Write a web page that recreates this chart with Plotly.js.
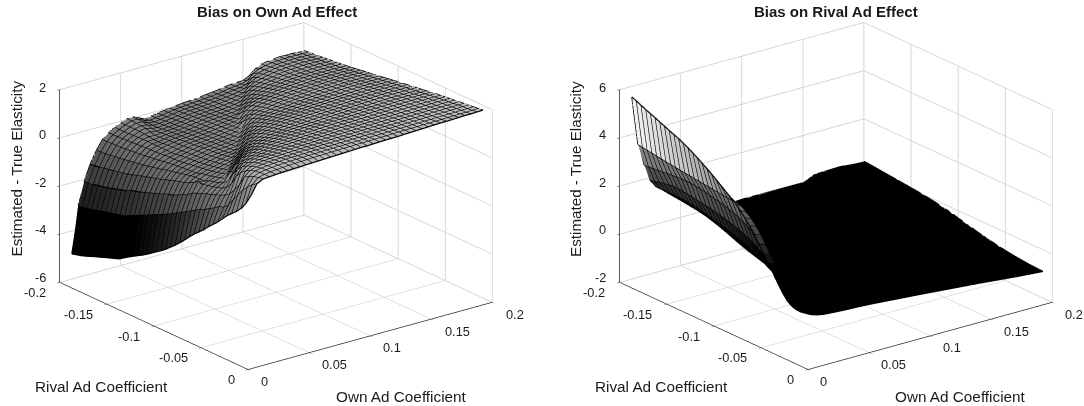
<!DOCTYPE html>
<html><head><meta charset="utf-8"><script src="https://cdn.plot.ly/plotly-3.0.1.min.js"></script>
<style>html,body{margin:0;padding:0;background:#fff}#c{width:1084px;height:406px}</style></head><body><div id="c"></div>
<script>
const ownA=[.01,.015,.02,.025,.03,.035,.04,.045,.05,.055,.06,.065,.07,.075,.08,.085,.09,.095,.1,.105,.11,.115,.12,.125,.13,.135,.14,.145,.15,.155,.16,.165,.17,.175,.18,.185,.19,.195,.2];
const ownB=[.01,.015,.02,.025,.03,.04,.05,.06,.08,.1,.15,.16,.18,.2];
const rivalAll=[-.2,-.195,-.19,-.185,-.18,-.175,-.17,-.165,-.16,-.155,-.15,-.145,-.14,-.135,-.13,-.125,-.12,-.115,-.11,-.105,-.1,-.095,-.09,-.085,-.08,-.075,-.07,-.065,-.06,-.055,-.05,-.045,-.04,-.035,-.03,-.025,-.02,-.015,-.01];
const ownTicks=[0,.05,.1,.15,.2], ownLabels=['0','0.05','0.1','0.15','0.2'];
const rivalTicks=[-.2,-.15,-.1,-.05,0], rivalLabels=['-0.2','-0.15','-0.1','-0.05','0'];
const zTicksA=[-6,-4,-2,0,2], zTicksB=[-2,0,2,4,6];
const zA=[
[-4.96,-3.03,-2.10,-1.45,-.95,-.57,-.35,-.20,-.08,.02,.03,-.08,-.20,-.15,-.10,-.06,-.02,0,.03,.05,.07,.09,.12,.15,.18,.23,.26,.27,.28,.40,.62,.75,.80,.82,.85,.84,.84,.83,.83],
[-4.90,-2.98,-2.06,-1.42,-.93,-.56,-.35,-.20,-.08,.02,.02,-.10,-.17,-.13,-.09,-.05,-.01,.02,.04,.06,.08,.10,.13,.16,.19,.24,.27,.29,.38,.60,.73,.78,.83,.84,.86,.86,.86,.85,.85],
[-4.85,-2.94,-2.03,-1.39,-.91,-.55,-.34,-.20,-.08,.01,0,-.12,-.14,-.11,-.07,-.03,.01,.04,.06,.08,.10,.13,.15,.19,.23,.27,.30,.36,.57,.70,.76,.81,.85,.86,.88,.88,.88,.87,.87],
[-4.78,-2.89,-1.99,-1.35,-.88,-.54,-.33,-.19,-.08,0,-.04,-.13,-.12,-.09,-.05,-.01,.03,.06,.08,.10,.12,.15,.18,.21,.25,.29,.36,.55,.68,.74,.79,.84,.87,.88,.90,.90,.90,.89,.89],
[-4.70,-2.84,-1.95,-1.31,-.85,-.53,-.32,-.18,-.08,-.02,-.09,-.13,-.10,-.07,-.03,.01,.05,.08,.10,.12,.14,.17,.20,.24,.28,.33,.53,.66,.72,.78,.83,.87,.89,.90,.92,.92,.92,.91,.91],
[-4.62,-2.78,-1.90,-1.27,-.82,-.51,-.31,-.17,-.10,-.08,-.12,-.10,-.08,-.05,-.01,.03,.07,.10,.12,.14,.16,.19,.22,.26,.31,.50,.64,.71,.77,.81,.86,.89,.91,.92,.94,.94,.94,.93,.93],
[-4.55,-2.73,-1.84,-1.23,-.79,-.49,-.29,-.16,-.12,-.13,-.10,-.08,-.06,-.03,.01,.05,.09,.12,.14,.16,.18,.21,.24,.29,.48,.62,.70,.76,.80,.85,.89,.91,.93,.94,.96,.96,.96,.95,.95],
[-4.47,-2.68,-1.78,-1.19,-.76,-.47,-.28,-.15,-.15,-.12,-.08,-.06,-.04,-.01,.03,.07,.11,.14,.16,.18,.20,.23,.27,.46,.60,.69,.75,.80,.84,.88,.91,.93,.95,.96,.98,.98,.98,.97,.97],
[-4.40,-2.63,-1.72,-1.14,-.72,-.45,-.26,-.16,-.15,-.10,-.06,-.04,-.02,.01,.05,.09,.13,.16,.18,.20,.22,.25,.44,.60,.70,.76,.81,.85,.89,.92,.94,.96,.98,.99,1.00,1.00,1.00,.99,.99],
[-4.33,-2.58,-1.66,-1.09,-.69,-.43,-.25,-.16,-.13,-.08,-.04,-.02,.01,.04,.07,.11,.15,.18,.20,.22,.24,.42,.60,.71,.77,.82,.86,.90,.93,.96,.98,1.00,1.01,1.02,1.02,1.02,1.02,1.01,1.01],
[-4.26,-2.54,-1.56,-1.00,-.65,-.40,-.25,-.15,-.11,-.06,-.02,0,.03,.06,.09,.13,.17,.20,.23,.25,.40,.60,.72,.78,.83,.87,.91,.94,.97,.99,1.01,1.03,1.04,1.05,1.05,1.05,1.05,1.04,1.04],
[-4.13,-2.44,-1.50,-.95,-.61,-.37,-.23,-.16,-.10,-.05,0,.02,.05,.08,.11,.15,.19,.22,.25,.30,.58,.72,.79,.84,.88,.92,.95,.98,1.00,1.02,1.04,1.06,1.07,1.08,1.08,1.08,1.08,1.07,1.07],
[-4.00,-2.35,-1.45,-.89,-.56,-.34,-.21,-.17,-.09,-.03,.02,.04,.07,.10,.13,.17,.21,.24,.27,.50,.68,.78,.84,.89,.93,.96,.99,1.01,1.03,1.05,1.07,1.09,1.10,1.11,1.11,1.11,1.11,1.10,1.10],
[-3.88,-2.25,-1.38,-.83,-.52,-.31,-.20,-.14,-.07,-.01,.04,.06,.09,.12,.15,.19,.23,.26,.45,.66,.78,.84,.89,.93,.96,.99,1.02,1.04,1.06,1.08,1.10,1.12,1.13,1.14,1.14,1.14,1.14,1.13,1.13],
[-3.76,-2.16,-1.31,-.78,-.47,-.28,-.19,-.11,-.05,.01,.06,.08,.11,.14,.17,.21,.25,.30,.64,.78,.84,.89,.93,.97,1.00,1.02,1.05,1.07,1.09,1.11,1.13,1.15,1.16,1.17,1.17,1.17,1.17,1.16,1.16],
[-3.65,-2.06,-1.24,-.72,-.42,-.25,-.18,-.09,-.03,.03,.08,.10,.13,.16,.19,.23,.28,.55,.75,.84,.89,.93,.97,1.00,1.03,1.06,1.08,1.10,1.12,1.14,1.16,1.17,1.18,1.19,1.19,1.19,1.19,1.19,1.19],
[-3.52,-1.96,-1.16,-.65,-.37,-.22,-.15,-.07,-.01,.05,.10,.12,.15,.18,.21,.26,.50,.72,.84,.90,.94,.98,1.01,1.04,1.07,1.09,1.11,1.13,1.15,1.17,1.18,1.20,1.21,1.22,1.22,1.22,1.22,1.22,1.22],
[-3.38,-1.87,-1.08,-.59,-.33,-.20,-.12,-.05,.01,.07,.12,.14,.17,.20,.24,.46,.70,.84,.91,.96,1.00,1.03,1.06,1.08,1.11,1.13,1.15,1.17,1.18,1.20,1.21,1.23,1.24,1.25,1.25,1.25,1.25,1.25,1.25],
[-3.24,-1.77,-.99,-.52,-.28,-.19,-.09,-.03,.03,.09,.14,.16,.19,.22,.43,.68,.84,.92,.98,1.02,1.05,1.08,1.10,1.13,1.15,1.17,1.19,1.20,1.22,1.23,1.24,1.26,1.27,1.28,1.28,1.28,1.28,1.28,1.28],
[-3.10,-1.66,-.95,-.46,-.24,-.17,-.06,0,.06,.12,.17,.19,.22,.40,.66,.84,.93,1.00,1.04,1.08,1.11,1.13,1.15,1.17,1.19,1.21,1.22,1.24,1.25,1.26,1.27,1.29,1.30,1.31,1.31,1.31,1.31,1.31,1.31],
[-2.95,-1.55,-.85,-.40,-.19,-.15,-.03,.03,.09,.15,.20,.24,.38,.64,.84,.94,1.01,1.06,1.10,1.13,1.16,1.18,1.20,1.22,1.24,1.25,1.27,1.28,1.29,1.30,1.31,1.32,1.33,1.34,1.34,1.34,1.34,1.34,1.34],
[-2.77,-1.43,-.75,-.33,-.16,-.08,0,.07,.13,.19,.24,.38,.62,.84,.96,1.03,1.08,1.12,1.16,1.18,1.20,1.22,1.24,1.26,1.27,1.29,1.30,1.31,1.32,1.33,1.34,1.35,1.36,1.37,1.37,1.37,1.37,1.37,1.37],
[-2.60,-1.32,-.65,-.22,-.15,-.04,.04,.11,.17,.23,.40,.62,.84,.97,1.05,1.10,1.14,1.17,1.20,1.22,1.24,1.26,1.28,1.29,1.31,1.32,1.33,1.34,1.35,1.36,1.37,1.38,1.39,1.40,1.40,1.40,1.40,1.40,1.40],
[-2.40,-1.20,-.50,-.09,-.14,0,.08,.15,.22,.42,.64,.85,.98,1.06,1.12,1.16,1.19,1.22,1.24,1.26,1.28,1.30,1.31,1.33,1.34,1.35,1.36,1.37,1.38,1.39,1.40,1.41,1.42,1.43,1.43,1.43,1.43,1.43,1.43],
[-2.20,-1.08,-.42,-.12,-.04,.05,.13,.21,.44,.66,.87,1.00,1.08,1.14,1.18,1.21,1.23,1.26,1.28,1.30,1.31,1.33,1.34,1.36,1.37,1.38,1.39,1.40,1.41,1.42,1.43,1.44,1.45,1.46,1.46,1.46,1.46,1.46,1.46],
[-1.98,-.95,-.33,-.08,.01,.10,.20,.45,.70,.90,1.03,1.11,1.17,1.21,1.24,1.27,1.29,1.31,1.32,1.34,1.35,1.36,1.38,1.39,1.40,1.41,1.42,1.43,1.44,1.44,1.45,1.46,1.47,1.48,1.48,1.48,1.48,1.48,1.48],
[-1.78,-.85,-.26,-.04,.06,.18,.46,.72,.93,1.06,1.14,1.20,1.24,1.27,1.30,1.32,1.34,1.35,1.37,1.38,1.39,1.40,1.41,1.42,1.43,1.44,1.45,1.46,1.47,1.47,1.48,1.49,1.50,1.51,1.51,1.51,1.51,1.51,1.51],
[-1.60,-.74,-.20,.03,.16,.48,.75,.97,1.10,1.18,1.23,1.27,1.30,1.33,1.35,1.37,1.38,1.39,1.41,1.42,1.43,1.44,1.45,1.46,1.46,1.47,1.48,1.49,1.50,1.50,1.51,1.52,1.53,1.54,1.54,1.54,1.54,1.54,1.54],
[-1.42,-.62,-.12,.08,.30,.70,.98,1.13,1.21,1.27,1.30,1.33,1.36,1.38,1.39,1.41,1.42,1.43,1.44,1.45,1.46,1.47,1.48,1.49,1.49,1.50,1.51,1.52,1.52,1.53,1.54,1.55,1.55,1.56,1.56,1.57,1.57,1.57,1.57],
[-1.20,-.50,-.05,.22,.68,1.00,1.15,1.24,1.29,1.33,1.36,1.38,1.40,1.42,1.43,1.44,1.45,1.46,1.47,1.48,1.49,1.50,1.51,1.51,1.52,1.53,1.53,1.54,1.55,1.55,1.56,1.57,1.58,1.58,1.59,1.59,1.59,1.59,1.59],
[-1.02,-.35,.05,.45,.98,1.18,1.27,1.33,1.36,1.39,1.41,1.43,1.45,1.46,1.47,1.48,1.49,1.50,1.50,1.51,1.52,1.53,1.53,1.54,1.55,1.55,1.56,1.57,1.57,1.58,1.58,1.59,1.60,1.60,1.61,1.61,1.61,1.62,1.62],
[-.82,-.30,.20,.85,1.17,1.29,1.36,1.40,1.42,1.44,1.46,1.47,1.48,1.49,1.50,1.51,1.52,1.53,1.53,1.54,1.55,1.55,1.56,1.57,1.57,1.58,1.58,1.59,1.59,1.60,1.61,1.61,1.62,1.62,1.63,1.63,1.64,1.64,1.64],
[-.60,-.10,.45,1.10,1.30,1.38,1.42,1.45,1.47,1.48,1.50,1.51,1.52,1.53,1.53,1.54,1.55,1.55,1.56,1.57,1.57,1.58,1.58,1.59,1.60,1.60,1.61,1.61,1.62,1.62,1.63,1.63,1.64,1.64,1.65,1.65,1.66,1.66,1.66],
[-.38,.20,.75,1.25,1.38,1.44,1.47,1.49,1.51,1.52,1.53,1.54,1.55,1.56,1.56,1.57,1.58,1.58,1.59,1.59,1.60,1.60,1.61,1.61,1.62,1.62,1.63,1.64,1.64,1.65,1.65,1.66,1.66,1.67,1.67,1.68,1.68,1.68,1.69],
[-.20,.50,1.15,1.37,1.44,1.48,1.51,1.52,1.54,1.55,1.56,1.57,1.58,1.58,1.59,1.60,1.60,1.61,1.61,1.62,1.62,1.63,1.63,1.64,1.64,1.65,1.65,1.66,1.66,1.67,1.67,1.68,1.68,1.69,1.69,1.70,1.70,1.71,1.71],
[-.02,.78,1.28,1.43,1.48,1.51,1.54,1.55,1.57,1.58,1.58,1.59,1.60,1.61,1.61,1.62,1.62,1.63,1.63,1.64,1.64,1.65,1.65,1.66,1.66,1.67,1.67,1.68,1.68,1.69,1.69,1.70,1.70,1.71,1.71,1.72,1.72,1.73,1.73],
[.20,1.00,1.36,1.46,1.50,1.53,1.55,1.57,1.58,1.59,1.60,1.61,1.61,1.62,1.63,1.63,1.64,1.64,1.65,1.65,1.66,1.66,1.67,1.67,1.68,1.68,1.69,1.69,1.70,1.70,1.71,1.71,1.72,1.72,1.73,1.73,1.74,1.74,1.75],
[.50,1.18,1.41,1.47,1.51,1.53,1.55,1.57,1.58,1.59,1.60,1.61,1.62,1.63,1.63,1.64,1.65,1.65,1.66,1.66,1.67,1.67,1.68,1.68,1.69,1.70,1.70,1.71,1.71,1.72,1.72,1.73,1.73,1.74,1.74,1.75,1.75,1.76,1.77],
[.90,1.32,1.45,1.47,1.49,1.51,1.52,1.53,1.54,1.55,1.56,1.57,1.58,1.59,1.60,1.61,1.62,1.63,1.64,1.64,1.65,1.66,1.67,1.67,1.68,1.69,1.70,1.71,1.72,1.73,1.74,1.75,1.75,1.76,1.77,1.78,1.78,1.79,1.80]];
const zB=[
[5.56,3.53,2.60,1.90,1.55,1.14,.80,.35,-.05,.05,.04,.25,.28,.23],
[5.48,3.50,2.62,1.95,1.55,1.12,.78,.32,-.05,.04,.03,.24,.27,.22],
[5.39,3.47,2.64,2.00,1.56,1.10,.76,.29,-.06,.03,.01,.23,.25,.20],
[5.30,3.44,2.66,2.04,1.57,1.08,.74,.26,-.06,.02,-.01,.21,.24,.18],
[5.22,3.41,2.68,2.08,1.57,1.05,.72,.23,-.07,.01,-.03,.20,.22,.16],
[5.14,3.38,2.70,2.10,1.56,1.02,.70,.20,-.08,0,-.05,.18,.20,.14],
[5.05,3.35,2.72,2.10,1.55,1.00,.68,.17,-.09,-.01,-.07,.17,.19,.12],
[4.97,3.33,2.74,2.08,1.53,.96,.60,.13,-.10,-.02,-.09,.15,.17,.10],
[4.88,3.30,2.76,2.05,1.50,.92,.52,.10,-.11,-.03,-.11,.13,.15,.08],
[4.80,3.27,2.76,2.02,1.46,.86,.42,.05,-.12,-.04,-.13,.11,.13,.06],
[4.72,3.25,2.75,1.98,1.42,.80,.32,0,-.13,-.05,-.15,.09,.11,.04],
[4.62,3.23,2.72,1.95,1.37,.73,.25,-.03,-.14,-.06,-.17,.08,.09,.02],
[4.52,3.20,2.70,1.92,1.32,.66,.20,-.05,-.15,-.07,-.19,.06,.07,0],
[4.40,3.18,2.66,1.88,1.27,.58,.15,-.07,-.16,-.09,-.21,.04,.05,-.03],
[4.28,3.15,2.62,1.84,1.21,.50,.10,-.09,-.17,-.11,-.23,.02,.03,-.06],
[4.15,3.13,2.57,1.79,1.15,.42,.06,-.10,-.18,-.13,-.26,0,.01,-.09],
[4.02,3.10,2.52,1.74,1.09,.35,.02,-.11,-.19,-.15,-.29,-.02,-.02,-.13],
[3.88,3.08,2.47,1.68,1.02,.28,-.01,-.12,-.20,-.17,-.32,-.05,-.05,-.17],
[3.73,3.06,2.41,1.62,.95,.22,-.04,-.13,-.21,-.19,-.35,-.08,-.08,-.21],
[3.58,3.04,2.34,1.55,.87,.16,-.06,-.14,-.22,-.21,-.38,-.11,-.12,-.26],
[3.43,3.02,2.27,1.47,.78,.10,-.08,-.15,-.23,-.23,-.41,-.15,-.16,-.31],
[3.28,2.97,2.18,1.38,.68,.05,-.10,-.16,-.24,-.25,-.44,-.19,-.20,-.36],
[3.13,2.92,2.06,1.27,.57,0,-.11,-.17,-.25,-.27,-.47,-.23,-.24,-.41],
[2.92,2.76,1.92,1.13,.45,-.03,-.12,-.18,-.26,-.29,-.49,-.27,-.29,-.46],
[2.70,2.60,1.75,.98,.33,-.05,-.13,-.19,-.27,-.31,-.51,-.31,-.34,-.51],
[2.46,2.38,1.56,.81,.22,-.07,-.14,-.20,-.28,-.33,-.53,-.35,-.39,-.56],
[2.20,2.12,1.34,.63,.12,-.08,-.15,-.20,-.29,-.35,-.54,-.39,-.44,-.60],
[1.88,1.80,1.08,.44,.04,-.09,-.16,-.21,-.30,-.36,-.56,-.44,-.49,-.64],
[1.55,1.48,.80,.25,-.02,-.10,-.17,-.22,-.31,-.37,-.58,-.49,-.54,-.68],
[1.25,1.18,.54,.10,-.06,-.11,-.18,-.23,-.32,-.38,-.60,-.53,-.59,-.72],
[.95,.88,.30,0,-.09,-.13,-.19,-.24,-.33,-.39,-.61,-.57,-.64,-.75],
[.62,.55,.12,-.06,-.11,-.15,-.20,-.25,-.33,-.40,-.62,-.60,-.68,-.78],
[.32,.26,.02,-.10,-.13,-.17,-.21,-.26,-.34,-.41,-.63,-.63,-.71,-.81],
[.08,.05,-.06,-.13,-.15,-.19,-.22,-.27,-.35,-.42,-.64,-.65,-.74,-.83],
[-.06,-.07,-.11,-.15,-.17,-.20,-.23,-.27,-.35,-.43,-.65,-.67,-.76,-.85],
[-.12,-.12,-.14,-.17,-.18,-.21,-.24,-.28,-.36,-.43,-.66,-.69,-.78,-.87],
[-.12,-.13,-.15,-.18,-.19,-.22,-.25,-.28,-.36,-.44,-.66,-.70,-.80,-.88],
[-.08,-.12,-.16,-.18,-.20,-.23,-.25,-.29,-.37,-.44,-.67,-.71,-.81,-.89],
[-.04,-.12,-.17,-.19,-.21,-.24,-.26,-.29,-.37,-.45,-.67,-.72,-.82,-.90]];
function tr(own,riv,z,color){
 const x=[],y=[],zz=[],i=[],j=[],k=[],fc=[];
 riv.forEach((r,a)=>own.forEach((o,b)=>{x.push(o);y.push(r);zz.push(z[a][b]);}));
 const n=own.length;
 for(let a=0;a<riv.length-1;a++)for(let b=0;b<n-1;b++){const p=a*n+b;i.push(p,p);j.push(p+1,p+1+n);k.push(p+1+n,p+n);const c=color(z[a][b]);fc.push(c,c);}
 return {type:'mesh3d',x,y,z:zz,i,j,k,facecolor:fc,flatshading:true,lighting:{ambient:1,diffuse:0,specular:0,roughness:1,fresnel:0},hoverinfo:'skip'};
}
function lines(own,riv,z){
 const x=[],y=[],zz=[];
 riv.forEach((r,a)=>{own.forEach((o,b)=>{x.push(o);y.push(r);zz.push(z[a][b]);});x.push(null);y.push(null);zz.push(null);});
 own.forEach((o,b)=>{riv.forEach((r,a)=>{x.push(o);y.push(r);zz.push(z[a][b]);});x.push(null);y.push(null);zz.push(null);});
 return {type:'scatter3d',mode:'lines',x,y,z:zz,line:{color:'#000',width:2.5},hoverinfo:'skip',connectgaps:false};
}
const ax=(vals,range)=>({range,tickvals:vals,showticklabels:false,showbackground:false,showgrid:true,gridcolor:'#cacaca',gridwidth:1.5,zeroline:false,showline:true,linecolor:'#262626',linewidth:1.5,ticks:'outside',ticklen:3,tickcolor:'#262626',title:{text:''},showspikes:false});
const d=1.05;
const scene=(dom,zv,zr)=>({domain:{x:dom,y:[0.0345,1]},aspectmode:'manual',aspectratio:{x:1.574,y:1.574,z:1.052},
 camera:{eye:{x:-.611*d,y:-.792*d,z:.382*d},up:{x:0,y:0,z:1},center:{x:0,y:0,z:0},projection:{type:'orthographic'}},
 xaxis:ax(ownTicks,[0,.2]),
 yaxis:ax(rivalTicks,[0,-.2]),
 zaxis:ax(zv,zr)});
const gray=g=>{const v=Math.round(255*Math.max(0,Math.min(1,g)));return `rgb(${v},${v},${v})`};
const gA=v=>gray((v+4)*.13);
const gB=v=>gray((v-1.2)/4.36*.95);
const FONT='Liberation Sans, Arial';
const note=(text,x,y,size,opt={})=>Object.assign({xref:'paper',yref:'paper',x:x/1084,y:1-y/406,text,showarrow:false,xanchor:'center',yanchor:'middle',font:{family:FONT,color:'#1a1a1a',size}},opt);
const corner={L:[59.3,281.7],F:[248.3,369],R:[493.3,301.7]};
function panel(dx,title,zv){
 const out=[note('<b>'+title+'</b>',dx+276.7,11,15),
  note('Estimated - True Elasticity',dx+15.5,169,15.2,{textangle:-90}),
  note('Rival Ad Coefficient',dx+101.9,386,15.3),
  note('Own Ad Coefficient',dx+401.5,396,15.3)];
 ownTicks.forEach((v,n)=>{const t=v/.2;out.push(note(ownLabels[n],dx+corner.F[0]+t*(corner.R[0]-corner.F[0])+10.5,corner.F[1]+t*(corner.R[1]-corner.F[1])+12.5,12.8,{xanchor:'left'}));});
 rivalTicks.forEach((v,n)=>{const t=(v+.2)/.2;out.push(note(rivalLabels[n],dx+corner.L[0]+t*(corner.F[0]-corner.L[0])-11.5,corner.L[1]+t*(corner.F[1]-corner.L[1])+10.7,12.8,{xanchor:'right'}));});
 zv.forEach((v,n)=>{out.push(note(String(v),dx+48.3,277-47.5*n,12.8,{xanchor:'right'}));});
 return out;
}
Plotly.newPlot('c',[
 Object.assign(tr(ownA,rivalAll,zA,gA),{scene:'scene'}),Object.assign(lines(ownA,rivalAll,zA),{scene:'scene'}),
 Object.assign(tr(ownB,rivalAll,zB,gB),{scene:'scene2'}),Object.assign(lines(ownB,rivalAll,zB),{scene:'scene2'})
],{width:1084,height:406,margin:{l:0,r:0,t:0,b:0},paper_bgcolor:'#fff',showlegend:false,
 scene:scene([28.3/1084,524.3/1084],zTicksA,[-6,2]),
 scene2:scene([587.7/1084,1083.7/1084],zTicksB,[-2,6]),
 annotations:[...panel(0,'Bias on Own Ad Effect',zTicksA),...panel(559.4,'Bias on Rival Ad Effect',zTicksB)]},{displayModeBar:false});
</script></body></html>
